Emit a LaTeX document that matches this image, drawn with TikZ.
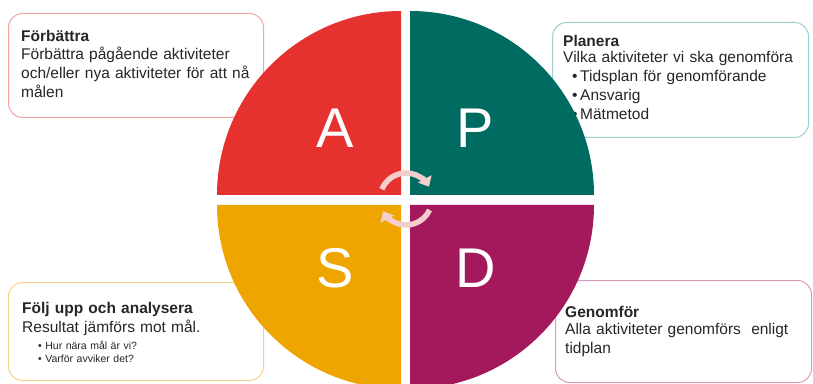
\documentclass[tikz,border=0pt]{standalone}
\usepackage{fontspec}
\setmainfont{Liberation Sans}
\usetikzlibrary{positioning,arrows.meta}

\definecolor{actRed}{HTML}{E5322F}
\definecolor{planGreen}{HTML}{006B61}
\definecolor{studyYellow}{HTML}{EEA500}
\definecolor{doPurple}{HTML}{A3195B}
\definecolor{actLine}{HTML}{F3A3A3}
\definecolor{planLine}{HTML}{9ED0CB}
\definecolor{studyLine}{HTML}{F8D28A}
\definecolor{doLine}{HTML}{D99BBA}
\definecolor{cyclePink}{HTML}{F4CDCD}
\definecolor{txtGray}{HTML}{262626}

\tikzset{
  infobox/.style={draw=#1, line width=1pt, rounded corners=14pt, fill=white,
    anchor=north west, inner sep=0pt},
  infotext/.style={anchor=base west, inner sep=0pt, text width=245pt, align=left,
    text=txtGray, font=\fontsize{15.5}{19}\selectfont},
  smalltext/.style={infotext, font=\fontsize{10.5}{13}\selectfont},
  letter/.style={text=white, font=\fontsize{56}{60}\selectfont},
  cyclearrow/.style={draw=cyclePink, line width=5.5pt, -{Triangle[length=9pt,width=15pt]}}
}

\begin{document}
\begin{tikzpicture}[x=1pt,y=1pt]
  \clip (0,0) rectangle (813,383);

  % boxes
  \node[infobox=actLine, minimum width=255pt, minimum height=104pt] (actbox) at (8,370) {};
  \node[infobox=planLine, minimum width=256pt, minimum height=115pt] (planbox) at (552,361) {};
  \node[infobox=studyLine, minimum width=255pt, minimum height=98pt] (studybox) at (8,101) {};
  \node[infobox=doLine, minimum width=256pt, minimum height=102pt] (dobox) at (555,103) {};

  \node[infotext] (acttext) at (21,341) {\textbf{Förbättra}\\[-1pt]
    Förbättra pågående aktiviteter\\
    och/eller nya aktiviteter för att nå\\
    målen};
  \node[infotext] (plantext) at (563,336) {\textbf{Planera}\\[-3pt]
    Vilka aktiviteter vi ska genomföra\\
    \hspace*{9pt}\textbullet\,Tidsplan för genomförande\\
    \hspace*{9pt}\textbullet\,Ansvarig\\
    \hspace*{9pt}\textbullet\,Mätmetod};
  \node[infotext] (studytext) at (22,70) {\textbf{Följ upp och analysera}\\
    Resultat jämförs mot mål.};
  \node[smalltext] (studybullets) at (38,34) {\textbullet\ Hur nära mål är vi?\\
    \textbullet\ Varför avviker det?};
  \node[infotext] (dotext) at (565,66) {\textbf{Genomför}\\[-2pt]
    Alla aktiviteter genomförs~ enligt\\
    tidplan};

  % quadrants
  \fill[actRed] (401,188) -- ++(-184,0) arc[start angle=180, end angle=90, radius=184] -- cycle;
  \fill[planGreen] (410,188) -- ++(0,184) arc[start angle=90, end angle=0, radius=184] -- cycle;
  \fill[studyYellow] (401,178) -- ++(-184,0) arc[start angle=180, end angle=270, radius=184] -- cycle;
  \fill[doPurple] (410,178) -- ++(184,0) arc[start angle=0, end angle=-90, radius=184] -- cycle;

  \node[letter] (letterA) at (335,255) {A};
  \node[letter] (letterP) at (475,255) {P};
  \node[letter] (letterS) at (335,115) {S};
  \node[letter] (letterD) at (476,115) {D};

  % cycle arrows
  \coordinate (hub) at (406,184);
  \draw[cyclearrow] ([shift={(158:26)}]hub) arc[start angle=158, end angle=28, radius=26];
  \draw[cyclearrow] ([shift={(-25:26)}]hub) arc[start angle=-25, end angle=-152, radius=26];
\end{tikzpicture}
\end{document}
